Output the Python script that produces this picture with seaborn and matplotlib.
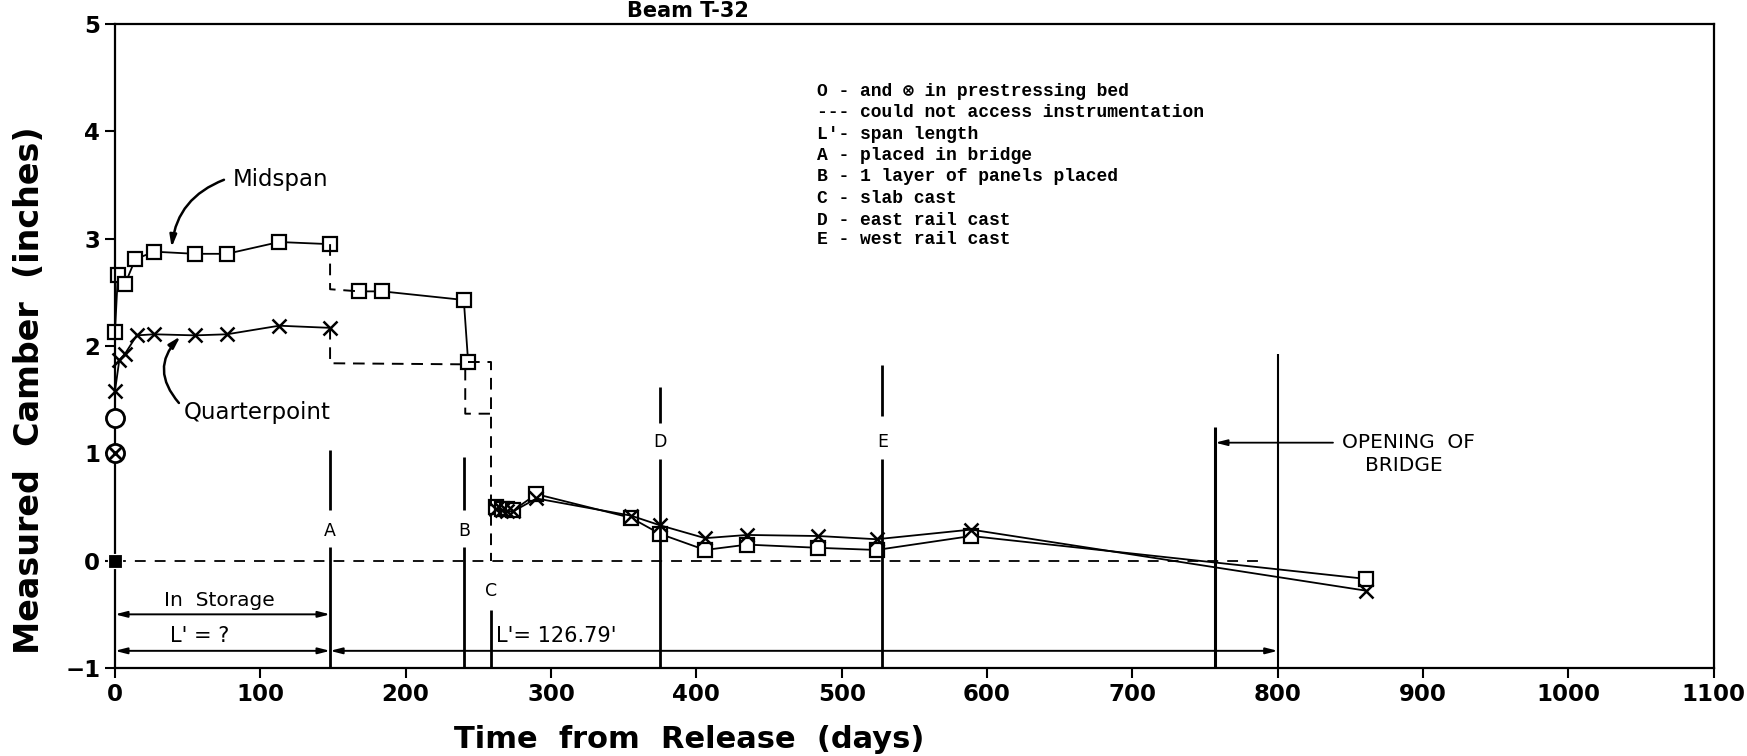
import matplotlib
matplotlib.use("Agg")
import matplotlib.pyplot as plt
import seaborn as sns

# ---- data (days from release, camber in inches) ----
mid_days = [0, 2, 7, 14, 27, 55, 77, 113, 148]
mid_vals = [2.13, 2.66, 2.58, 2.81, 2.88, 2.86, 2.86, 2.97, 2.95]
mid_days2 = [168, 184, 240, 243]
mid_vals2 = [2.51, 2.51, 2.43, 1.85]
mid_days3 = [262, 266, 270, 274, 290, 355, 375, 406, 435, 484, 524, 589, 861]
mid_vals3 = [0.50, 0.48, 0.48, 0.47, 0.62, 0.40, 0.25, 0.10, 0.15, 0.12, 0.10, 0.23, -0.17]

qtr_days = [0, 3, 7, 15, 27, 55, 77, 113, 148]
qtr_vals = [1.58, 1.87, 1.93, 2.10, 2.11, 2.10, 2.11, 2.19, 2.17]
qtr_days3 = [262, 266, 270, 274, 290, 355, 375, 406, 435, 484, 524, 589, 861]
qtr_vals3 = [0.48, 0.47, 0.46, 0.46, 0.58, 0.42, 0.33, 0.21, 0.24, 0.23, 0.20, 0.29, -0.28]

# could not access instrumentation (dashed connectors)
mid_gap1_days = [148, 148, 168]
mid_gap1_vals = [2.95, 2.53, 2.51]
mid_gap2_days = [243, 259, 259, 259]
mid_gap2_vals = [1.85, 1.85, 0.50, 0.0]
qtr_gap_days = [148, 148, 241, 241, 258]
qtr_gap_vals = [2.17, 1.84, 1.83, 1.37, 1.37]

# in prestressing bed
bed_days = [0, 0]
bed_mid = [1.33, 0.0]
bed_qtr = [1.00, 0.0]

event_names = ["A", "B", "C", "D", "E"]
event_days = [148, 240, 259, 375, 528]
opening_day = 757
span_end_day = 800

legend_lines = [
    "O - and \u2297 in prestressing bed",
    "--- could not access instrumentation",
    "L'- span length",
    "A - placed in bridge",
    "B - 1 layer of panels placed",
    "C - slab cast",
    "D - east rail cast",
    "E - west rail cast",
]

sns.set_style("ticks")
plt.rcParams["font.family"] = ["DejaVu Sans"]
plt.rcParams["text.color"] = "black"
plt.rcParams["axes.labelcolor"] = "black"
plt.rcParams["xtick.color"] = "black"
plt.rcParams["ytick.color"] = "black"
plt.rcParams["axes.edgecolor"] = "black"

fig = plt.figure(figsize=(17.47, 7.56), dpi=100)
ax = fig.add_axes([0.0658, 0.1164, 0.981 - 0.0658, 0.968 - 0.1164])

sq = dict(marker="s", markersize=10, markerfacecolor="white",
          markeredgecolor="black", markeredgewidth=1.6)
xx = dict(marker="x", markersize=10, markeredgecolor="black", markeredgewidth=1.8)
common = dict(color="black", linewidth=1.3, estimator=None, sort=False,
              ax=ax, legend=False, clip_on=False)

# midspan
sns.lineplot(x=mid_days, y=mid_vals, **sq, **common)
sns.lineplot(x=mid_days2, y=mid_vals2, **sq, **common)
sns.lineplot(x=mid_days3, y=mid_vals3, **sq, **common)
# quarterpoint
sns.lineplot(x=qtr_days, y=qtr_vals, **xx, **common)
sns.lineplot(x=qtr_days3, y=qtr_vals3, **xx, **common)

# dashed connectors
dash = dict(color="black", linewidth=1.4, estimator=None, sort=False,
            ax=ax, legend=False, dashes=False)
for d, v in [(mid_gap1_days, mid_gap1_vals), (mid_gap2_days, mid_gap2_vals),
             (qtr_gap_days, qtr_gap_vals)]:
    sns.lineplot(x=d, y=v, linestyle=(0, (6, 4)), **dash)

# prestressing bed points
sns.scatterplot(x=bed_days[:1], y=bed_mid[:1], marker="o", s=170, facecolor="white",
                edgecolor="black", linewidth=2, ax=ax, clip_on=False, zorder=5)
sns.scatterplot(x=bed_days[:1], y=bed_qtr[:1], marker="o", s=170, facecolor="white",
                edgecolor="black", linewidth=2, ax=ax, clip_on=False, zorder=5)
sns.scatterplot(x=bed_days[:1], y=bed_qtr[:1], marker="x", s=80, color="black",
                linewidth=2, ax=ax, clip_on=False, zorder=6)
sns.scatterplot(x=bed_days[1:], y=bed_mid[1:], marker="s", s=110, color="black",
                ax=ax, clip_on=False, zorder=6)

# zero reference
ax.hlines(0, 0, 790, colors="black", linestyles=(0, (6, 5)), linewidth=1.3)

# event lines: (upper segment, label y, lower segment top)
ev_upper = [(1.03, 0.47), (0.97, 0.47), None, (1.62, 1.28), (1.82, 1.35)]
ev_label = [0.28, 0.28, -0.28, 1.11, 1.11]
ev_lower = [0.13, 0.13, -0.46, 0.95, 0.95]
for name, d, up, ly, lo in zip(event_names, event_days, ev_upper, ev_label, ev_lower):
    if up is not None:
        ax.vlines(d, up[1], up[0], colors="black", linewidth=2)
    ax.vlines(d, -1, lo, colors="black", linewidth=2)
    ax.text(d, ly, name, ha="center", va="center", fontsize=12.5)

ax.vlines(opening_day, -1, 1.25, colors="black", linewidth=2.2)
ax.vlines(span_end_day, -1, 1.93, colors="black", linewidth=1.5)

arrow = dict(arrowstyle="<|-|>,head_length=0.7,head_width=0.18", color="black",
             lw=1.4, shrinkA=0, shrinkB=0)
ax.annotate("", xy=(0, -0.50), xytext=(event_days[0], -0.50), arrowprops=arrow)
ax.annotate("", xy=(0, -0.84), xytext=(event_days[0], -0.84), arrowprops=arrow)
ax.annotate("", xy=(event_days[0], -0.84), xytext=(span_end_day, -0.84), arrowprops=arrow)
ax.text(72, -0.37, "In  Storage", ha="center", va="center", fontsize=14.5)
ax.text(58, -0.70, "L' = ?", ha="center", va="center", fontsize=15)
ax.text(262, -0.70, "L'= 126.79'", ha="left", va="center", fontsize=15)

ax.annotate("", xy=(opening_day, 1.10), xytext=(838, 1.10),
            arrowprops=dict(arrowstyle="-|>,head_length=0.7,head_width=0.18",
                            color="black", lw=1.3, shrinkA=0, shrinkB=0))
ax.text(890, 1.10, "OPENING  OF", ha="center", va="center", fontsize=14.5)
ax.text(887, 0.89, "BRIDGE", ha="center", va="center", fontsize=14.5)

# series labels with curved arrows
ax.text(81, 3.55, "Midspan", ha="left", va="center", fontsize=16.5)
ax.annotate("", xy=(39, 2.92), xytext=(75, 3.55),
            arrowprops=dict(arrowstyle="-|>,head_length=0.7,head_width=0.2",
                            connectionstyle="arc3,rad=0.3", color="black", lw=1.8,
                            shrinkA=0, shrinkB=0))
ax.text(47, 1.38, "Quarterpoint", ha="left", va="center", fontsize=16.5)
ax.annotate("", xy=(45, 2.09), xytext=(44, 1.47),
            arrowprops=dict(arrowstyle="-|>,head_length=0.7,head_width=0.2",
                            connectionstyle="arc3,rad=-0.45", color="black", lw=1.8,
                            shrinkA=0, shrinkB=0))

# notes block
note_y = [4.37, 4.18, 3.97, 3.78, 3.58, 3.38, 3.17, 2.99]
for line, y in zip(legend_lines, note_y):
    ax.text(483, y, line, ha="left", va="center", fontsize=13, fontweight="bold",
            family=["Liberation Mono", "DejaVu Sans Mono", "DejaVu Sans"])

ax.set_xlim(0, 1100)
ax.set_ylim(-1, 5)
ax.set_xticks(range(0, 1101, 100))
ax.set_yticks(range(-1, 6))
ax.tick_params(labelsize=16.5, width=1.5, length=7, colors="black")
for lab in ax.get_xticklabels() + ax.get_yticklabels():
    lab.set_fontweight("bold")
for s in ax.spines.values():
    s.set_visible(True)
    s.set_linewidth(1.6)
    s.set_color("black")

ax.set_xlabel("Time  from  Release  (days)", fontsize=22, fontweight="bold")
ax.xaxis.set_label_coords(0.359, -0.088)
ax.set_ylabel("Measured  Camber  (inches)", fontsize=24, fontweight="bold")
ax.yaxis.set_label_coords(-0.043, 0.432)

fig.text(0.394, 0.999, "Beam T-32", ha="center", va="top",
         fontsize=15, fontweight="bold")

fig.savefig("out.png", dpi=100)
